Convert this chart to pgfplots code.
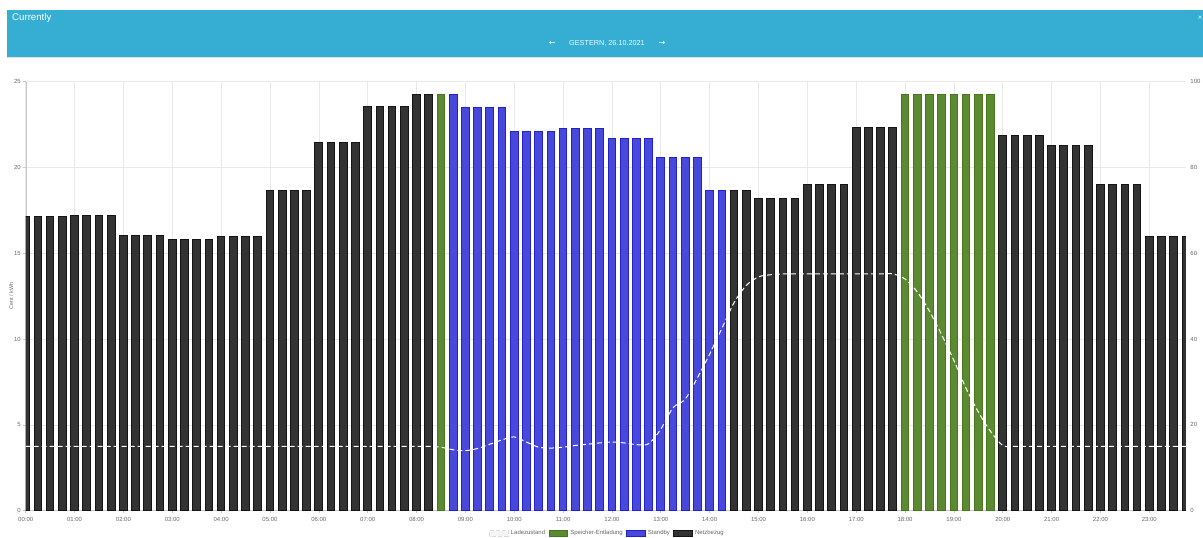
\documentclass[border=0pt]{standalone}
\usepackage{fontspec}
\setmainfont{Liberation Sans}
\newfontfamily\dejavu{DejaVu Sans}
\usepackage{pgfplots}
\pgfplotsset{compat=1.18}
\definecolor{headerblue}{RGB}{54,174,211}
\definecolor{tickgray}{RGB}{102,102,102}
\definecolor{gridgray}{RGB}{233,233,233}
\definecolor{axisgray}{RGB}{200,200,200}
\definecolor{netzfill}{RGB}{51,51,51}
\definecolor{netzdraw}{RGB}{20,20,20}
\definecolor{standbyfill}{RGB}{72,72,218}
\definecolor{standbydraw}{RGB}{34,34,204}
\definecolor{greenfill}{RGB}{91,138,50}
\definecolor{greendraw}{RGB}{72,118,28}
\begin{document}
\begin{tikzpicture}[x=1bp,y=1bp]
\path[use as bounding box] (0,0) rectangle (1203,538);
% header band
\fill[black!12] (7,480) rectangle (1203,481.5);
\fill[headerblue] (7,481) rectangle (1203,528);
\node[anchor=west,inner sep=0,text=white,font=\fontsize{9.7}{11}\selectfont] at (12,520) {Currently};
\node[anchor=center,inner sep=0,text=white!92!headerblue,font=\fontsize{7.3}{8}\selectfont] at (607,494.7) {GESTERN, 26.10.2021};
\node[anchor=center,inner sep=0,text=white,font=\dejavu\fontsize{8}{9}\selectfont] at (552.3,494.9) {←};
\node[anchor=center,inner sep=0,text=white,font=\dejavu\fontsize{8}{9}\selectfont] at (662,494.9) {→};
\node[anchor=center,inner sep=0,text=white,font=\dejavu\fontsize{6}{7}\selectfont] at (1200,520) {×};

\begin{axis}[
  at={(25.7bp,27.3bp)}, anchor=south west,
  scale only axis, width=1160.3bp, height=429bp,
  xmin=0, xmax=95, ymin=0, ymax=25,
  ybar, bar width=7.7bp, bar shift=0pt,
  axis line style={draw=axisgray},
  axis x line*=bottom, axis y line*=left,
  xtick={0,4,...,92},
  xticklabels={00:00,01:00,02:00,03:00,04:00,05:00,06:00,07:00,08:00,09:00,10:00,11:00,12:00,13:00,14:00,15:00,16:00,17:00,18:00,19:00,20:00,21:00,22:00,23:00},
  ytick={0,5,...,25},
  grid=major, major grid style={draw=gridgray, line width=0.6bp},
  tick style={draw=axisgray, line width=0.6bp},
  tick align=outside, major tick length=2.5bp,
  /pgf/number format/assume math mode=true,
  tick label style={font=\fontsize{6}{7}\selectfont, text=tickgray},
  xticklabel style={yshift=-0.8bp},
  yticklabel style={xshift=1bp},
  ylabel={Cent / kWh},
  ylabel style={at={(axis description cs:-0.0125,0.5)}, anchor=center, font=\fontsize{5.4}{6}\selectfont, text=tickgray},
]
\addplot[fill=netzfill, draw=netzdraw, line width=1bp] coordinates {
(0,17.13)(1,17.13)(2,17.13)(3,17.13)
(4,17.19)(5,17.19)(6,17.19)(7,17.19)
(8,16.05)(9,16.05)(10,16.05)(11,16.05)
(12,15.78)(13,15.78)(14,15.78)(15,15.78)
(16,15.97)(17,15.97)(18,15.97)(19,15.97)
(20,18.67)(21,18.67)(22,18.67)(23,18.67)
(24,21.45)(25,21.45)(26,21.45)(27,21.45)
(28,23.57)(29,23.57)(30,23.57)(31,23.57)
(32,24.27)(33,24.27)
(58,18.63)(59,18.63)
(60,18.20)(61,18.20)(62,18.20)(63,18.20)
(64,18.98)(65,18.98)(66,18.98)(67,18.98)
(68,22.32)(69,22.32)(70,22.32)(71,22.32)
(80,21.89)(81,21.89)(82,21.89)(83,21.89)
(84,21.31)(85,21.31)(86,21.31)(87,21.31)
(88,19.02)(89,19.02)(90,19.02)(91,19.02)
(92,15.97)(93,15.97)(94,15.97)(95,15.97)
};
\addplot[fill=standbyfill, draw=standbydraw, line width=1bp] coordinates {
(35,24.27)
(36,23.49)(37,23.49)(38,23.49)(39,23.49)
(40,22.07)(41,22.07)(42,22.07)(43,22.07)
(44,22.26)(45,22.26)(46,22.26)(47,22.26)
(48,21.68)(49,21.68)(50,21.68)(51,21.68)
(52,20.57)(53,20.57)(54,20.57)(55,20.57)
(56,18.63)(57,18.63)
};
\addplot[fill=greenfill, draw=greendraw, line width=1bp] coordinates {
(34,24.27)
(72,24.27)(73,24.27)(74,24.27)(75,24.27)
(76,24.27)(77,24.27)(78,24.27)(79,24.27)
};
\end{axis}

\begin{axis}[
  at={(25.7bp,27.3bp)}, anchor=south west,
  scale only axis, width=1160.3bp, height=429bp,
  xmin=0, xmax=95, ymin=0, ymax=100,
  axis x line=none,
  axis y line*=right,
  y axis line style={draw=none},
  ytick={0,20,...,100},
  major tick length=0pt,
  /pgf/number format/assume math mode=true,
  tick label style={font=\fontsize{6}{7}\selectfont, text=tickgray},
  yticklabel style={xshift=1bp},
  legend columns=-1,
  legend style={at={(0.5,0)}, anchor=center, xshift=1.5bp, yshift=-22.8bp, draw=none, fill=none,
    font=\fontsize{6}{7}\selectfont, text=tickgray,
    /tikz/every even column/.append style={column sep=1.5bp}},
  legend image code/.code={\draw[#1] (0bp,-2.85bp) rectangle (18.7bp,2.85bp);},
]
\addplot[draw=white, line width=1bp, dash pattern=on 5bp off 3bp, smooth,
  legend image code/.code={\draw[draw=black!15, fill=black!4, line width=1.2bp, dash pattern=on 4bp off 2bp] (0bp,-2.85bp) rectangle (18.7bp,2.85bp);}] coordinates {
(0,15)(1,15)(2,15)(3,15)(4,15)(5,15)(6,15)(7,15)(8,15)(9,15)
(10,15)(11,15)(12,15)(13,15)(14,15)(15,15)(16,15)(17,15)(18,15)(19,15)
(20,15)(21,15)(22,15)(23,15)(24,15)(25,15)(26,15)(27,15)(28,15)(29,15)
(30,15)(31,15)(32,15)(33,15)(34,14.8)(35,14.2)(36,14.0)(37,14.5)(38,15.5)(39,16.5)
(40,17.2)(41,16.0)(42,14.8)(43,14.6)(44,14.8)(45,15.2)(46,15.5)(47,15.8)(48,16.0)(49,15.8)
(50,15.4)(51,15.6)(52,19.0)(53,24.0)(54,26.0)(55,31.0)(56,36.5)(57,42.5)(58,48.5)(59,52.5)
(60,54.5)(61,55.0)(62,55.2)(63,55.2)(64,55.2)(65,55.2)(66,55.2)(67,55.2)(68,55.2)(69,55.2)
(70,55.2)(71,55.2)(72,54.0)(73,51.0)(74,46.5)(75,41.0)(76,35.0)(77,28.5)(78,23.0)(79,18.5)
(80,15.2)(81,15)(82,15)(83,15)(84,15)(85,15)(86,15)(87,15)(88,15)(89,15)
(90,15)(91,15)(92,15)(93,15)(94,15)(95,15)
};
\addlegendentry{Ladezustand}
\addlegendimage{draw=greendraw, fill=greenfill, line width=1bp}
\addlegendentry{Speicher-Entladung}
\addlegendimage{draw=standbydraw, fill=standbyfill, line width=1bp}
\addlegendentry{Standby}
\addlegendimage{draw=netzdraw, fill=netzfill, line width=1bp}
\addlegendentry{Netzbezug}
\end{axis}
\end{tikzpicture}
\end{document}
